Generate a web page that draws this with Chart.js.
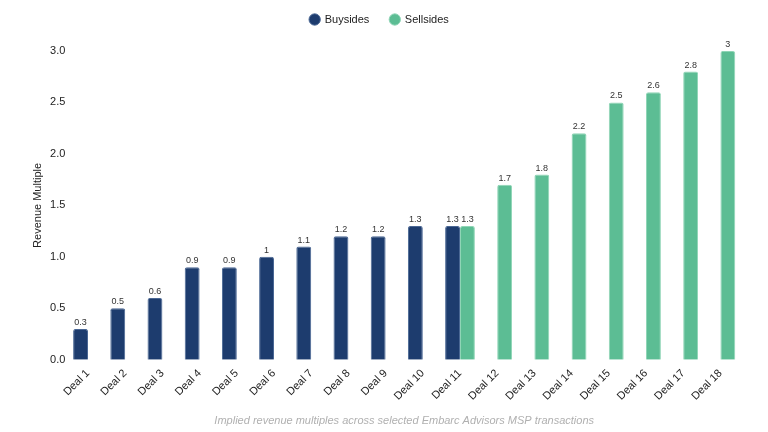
<!DOCTYPE html>
<html><head><meta charset="utf-8">
<script src="https://cdn.jsdelivr.net/npm/chart.js@4.4.1/dist/chart.umd.min.js"></script>
<style>html,body{margin:0;padding:0;background:#fff;}</style>
</head><body>
<canvas id="c" width="768" height="432"></canvas>
<script>
const categories = ['Deal 1','Deal 2','Deal 3','Deal 4','Deal 5','Deal 6','Deal 7','Deal 8','Deal 9','Deal 10','Deal 11','Deal 12','Deal 13','Deal 14','Deal 15','Deal 16','Deal 17','Deal 18'];
const buysideValues = [0.3,0.5,0.6,0.9,0.9,1,1.1,1.2,1.2,1.3,1.3,null,null,null,null,null,null,null];
const sellsideValues = [null,null,null,null,null,null,null,null,null,null,1.3,1.7,1.8,2.2,2.5,2.6,2.8,3];
const yTickValues = [0,0.5,1,1.5,2,2.5,3];

Chart.defaults.font.family = '"Liberation Sans", Arial, Helvetica, sans-serif';
Chart.defaults.color = '#333';

const valueLabels = {
  id: 'valueLabels',
  afterInit(chart) {
    const lg = chart.legend;
    if (lg) {
      const f = lg.fit.bind(lg);
      lg.fit = function () { f(); this.height += 16; };
    }
  },
  afterDatasetsDraw(chart) {
    const ctx = chart.ctx;
    ctx.save();
    ctx.font = '9px "Liberation Sans", Arial, sans-serif';
    ctx.fillStyle = '#333';
    ctx.textAlign = 'center';
    ctx.textBaseline = 'bottom';
    chart.data.datasets.forEach((ds, di) => {
      const meta = chart.getDatasetMeta(di);
      meta.data.forEach((el, i) => {
        const v = ds.data[i];
        if (v === null || v === undefined) return;
        ctx.fillText(String(v), el.x, el.y - 2);
      });
    });
    ctx.restore();
  }
};

new Chart(document.getElementById('c'), {
  type: 'bar',
  data: {
    labels: categories,
    datasets: [
      {label: 'Buysides', data: buysideValues, backgroundColor: '#1d3c6e', borderColor: '#4a6794', borderWidth: 1, borderRadius: 2},
      {label: 'Sellsides', data: sellsideValues, backgroundColor: '#5cbd94', borderColor: '#8fd5b6', borderWidth: 1, borderRadius: 2}
    ]
  },
  options: {
    responsive: false,
    animation: false,
    layout: {padding: {top: 4, right: 29, left: 20, bottom: 0}},
    datasets: {bar: {categoryPercentage: 0.8, barPercentage: 1}},
    scales: {
      x: {
        grid: {display: false, drawTicks: false},
        border: {display: false},
        afterFit: s => { s.height = 55; },
        ticks: {autoSkip: false, maxRotation: 45, minRotation: 45, padding: 7, color: '#222', font: {size: 11}}
      },
      y: {
        min: 0, max: 3,
        grid: {display: false, drawTicks: false},
        border: {display: false},
        afterBuildTicks: s => { s.ticks = yTickValues.map(v => ({value: v})); },
        afterFit: s => { s.width = 49.4; },
        ticks: {padding: 4, color: '#222', font: {size: 11}, callback: v => Number(v).toFixed(1)},
        title: {display: true, text: 'Revenue Multiple', color: '#222', font: {size: 11}, padding: {top: 11, bottom: 0}}
      }
    },
    plugins: {
      legend: {
        position: 'top',
        labels: {
          usePointStyle: true, pointStyle: 'circle', boxWidth: 9, boxHeight: 8, padding: 10,
          color: '#222', font: {size: 11},
          generateLabels: chart => {
            const items = Chart.defaults.plugins.legend.labels.generateLabels(chart);
            items.forEach((it, i) => { if (i < items.length - 1) it.text = it.text + '\u2003'; });
            return items;
          }
        }
      },
      title: {
        display: true, position: 'bottom', fullSize: false,
        text: 'Implied revenue multiples across selected Embarc Advisors MSP transactions',
        color: '#b0b0b0', font: {size: 11, style: 'italic', weight: 'normal'},
        padding: {top: 0, bottom: 4}
      },
      tooltip: {enabled: false}
    }
  },
  plugins: [valueLabels]
});
</script>
</body></html>
